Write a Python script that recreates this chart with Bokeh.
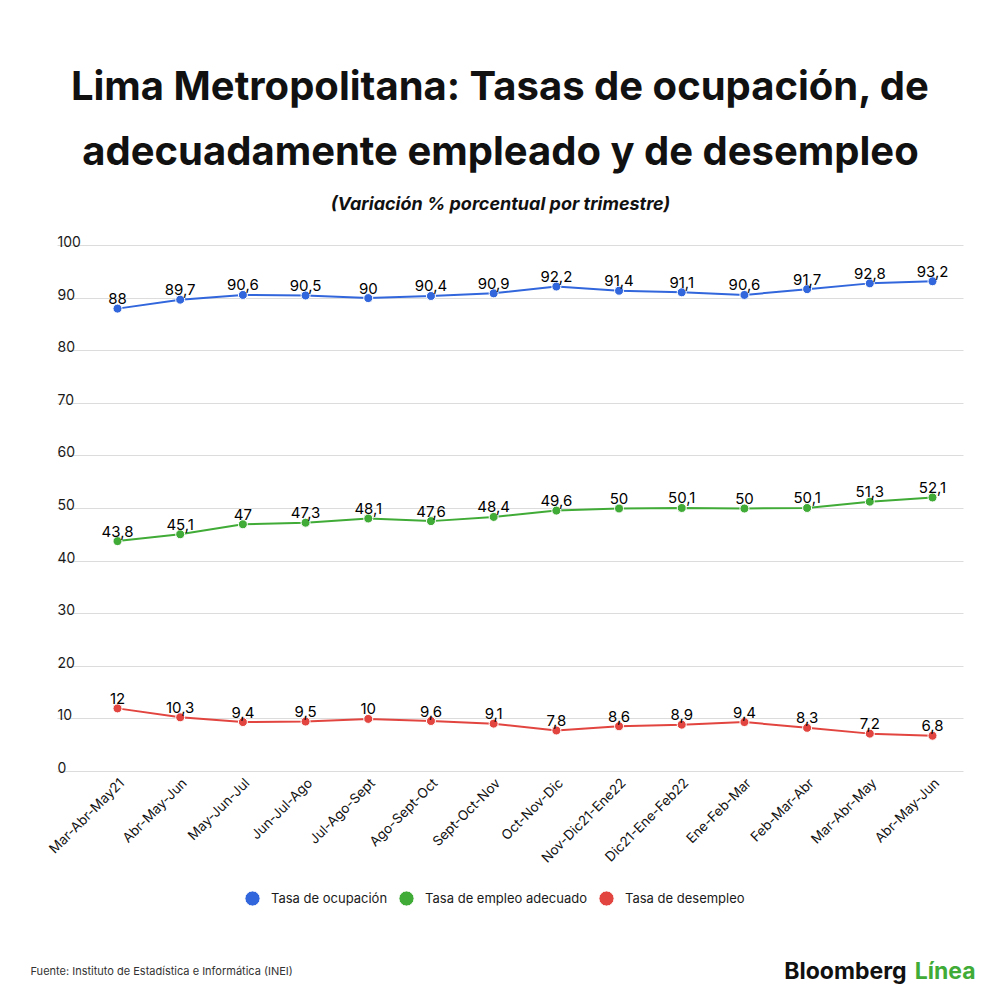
from math import pi

from bokeh.core.properties import value
from bokeh.embed import file_html
from bokeh.models import (ColumnDataSource, FixedTicker, Grid, Label, Legend,
                          LegendItem, Range1d)
from bokeh.plotting import figure
from bokeh.resources import INLINE

# --- data -------------------------------------------------------------
trimestres = ["Mar-Abr-May21", "Abr-May-Jun", "May-Jun-Jul", "Jun-Jul-Ago",
              "Jul-Ago-Sept", "Ago-Sept-Oct", "Sept-Oct-Nov", "Oct-Nov-Dic",
              "Nov-Dic21-Ene22", "Dic21-Ene-Feb22", "Ene-Feb-Mar",
              "Feb-Mar-Abr", "Mar-Abr-May", "Abr-May-Jun"]
ocupacion = [88, 89.7, 90.6, 90.5, 90, 90.4, 90.9, 92.2, 91.4, 91.1, 90.6,
             91.7, 92.8, 93.2]
empleo_adecuado = [43.8, 45.1, 47, 47.3, 48.1, 47.6, 48.4, 49.6, 50, 50.1,
                   50, 50.1, 51.3, 52.1]
desempleo = [12, 10.3, 9.4, 9.5, 10, 9.6, 9.1, 7.8, 8.6, 8.9, 9.4, 8.3,
             7.2, 6.8]
y_ticks = [0, 10, 20, 30, 40, 50, 60, 70, 80, 90, 100]

series = [
    ("Tasa de ocupación", ocupacion, "#3166dc"),
    ("Tasa de empleo adecuado", empleo_adecuado, "#40ab36"),
    ("Tasa de desempleo", desempleo, "#e2453f"),
]

FONT = "Inter"
W = H = 1000
# pixel layout of the chart area (left grid edge, right grid edge,
# first / last category, y=0 and y=100 lines)
GRID_L, GRID_R = 57, 963
X_FIRST, X_LAST = 117, 932
Y0_PX, Y100_PX = 771, 245

dx = (X_LAST - X_FIRST) / (len(trimestres) - 1)
dy = (Y0_PX - Y100_PX) / 100
x_lo = -X_FIRST / dx
x_hi = (len(trimestres) - 1) + (W - X_LAST) / dx
y_lo = -(H - Y0_PX) / dy
y_hi = 100 + Y100_PX / dy
grid_x0 = -(X_FIRST - GRID_L) / dx
grid_x1 = (len(trimestres) - 1) + (GRID_R - X_LAST) / dx

p = figure(width=W, height=H, output_backend="svg", toolbar_location=None,
           x_range=Range1d(x_lo, x_hi), y_range=Range1d(y_lo, y_hi),
           x_axis_location=None, y_axis_location=None, min_border=0)
p.outline_line_color = None
p.background_fill_color = "white"
p.border_fill_color = "white"
p.xgrid.visible = False
p.ygrid.visible = False

grid = Grid(dimension=1, ticker=FixedTicker(ticks=y_ticks),
            grid_line_color="#dcdcdc", grid_line_width=1)
if "cross_bounds" in Grid.properties():
    grid.cross_bounds = (grid_x0, grid_x1)
    p.add_layout(grid)
else:
    p.segment(x0=[grid_x0] * len(y_ticks), x1=[grid_x1] * len(y_ticks),
              y0=y_ticks, y1=y_ticks, line_color="#dcdcdc", line_width=1)

xs = list(range(len(trimestres)))

# y tick labels sitting on top of the grid lines
p.text(x=[grid_x0] * len(y_ticks), y=y_ticks, text=[str(t) for t in y_ticks],
       text_font=value(FONT), text_font_size="14px", text_color="#1a1a1a",
       text_align="left", text_baseline="alphabetic", y_offset=-4)

# rotated category labels under the chart
p.text(x=xs, y=[0] * len(xs), text=trimestres, angle=pi / 4,
       text_font=value(FONT), text_font_size="13.5px", text_color="#111111",
       text_align="right", text_baseline="middle", x_offset=4, y_offset=9)

items = []
for name, vals, color in series:
    src = ColumnDataSource(dict(x=xs, y=vals,
                                lbl=[str(v).replace(".", ",") for v in vals]))
    p.line("x", "y", source=src, line_color=color, line_width=2)
    dots = p.scatter("x", "y", source=src, size=9, fill_color=color,
                     line_color="white", line_width=1)
    p.text("x", "y", text="lbl", source=src, text_font=value(FONT),
           text_font_size="15px", text_color="#000000", text_align="center",
           text_baseline="alphabetic", y_offset=-10)
    items.append(LegendItem(label=name, renderers=[dots]))

legend = Legend(items=items, orientation="horizontal",
                location=(233, H - 917),
                border_line_color=None, background_fill_alpha=0,
                label_text_font=FONT, label_text_font_size="13px",
                label_text_color="#1a1a1a", glyph_width=38, glyph_height=38,
                spacing=0, label_standoff=0, margin=0, padding=0)
p.add_layout(legend)

texts = [
    ("Lima Metropolitana: Tasas de ocupación, de", 500, 85, 40, "bold",
     "center", "#111111"),
    ("adecuadamente empleado y de desempleo", 500, 150, 40, "bold",
     "center", "#111111"),
    ("(Variación % porcentual por trimestre)", 500, 203, 18, "bold italic",
     "center", "#111111"),
    ("Fuente: Instituto de Estadística e Informática (INEI)", 30, 970, 11,
     "normal", "left", "#333333"),
    ("Bloomberg", 906, 970, 23, "bold", "right", "#111111"),
    ("Línea", 975, 970, 23, "bold", "right", "#40ab36"),
]
for txt, px, py, size, style, align, color in texts:
    p.add_layout(Label(x=px, y=H - py, x_units="screen", y_units="screen",
                       text=txt, text_font=FONT, text_font_size=f"{size}px",
                       text_font_style=style, text_align=align,
                       text_baseline="middle", text_color=color))

open("out.html", "w").write(file_html(p, INLINE))
